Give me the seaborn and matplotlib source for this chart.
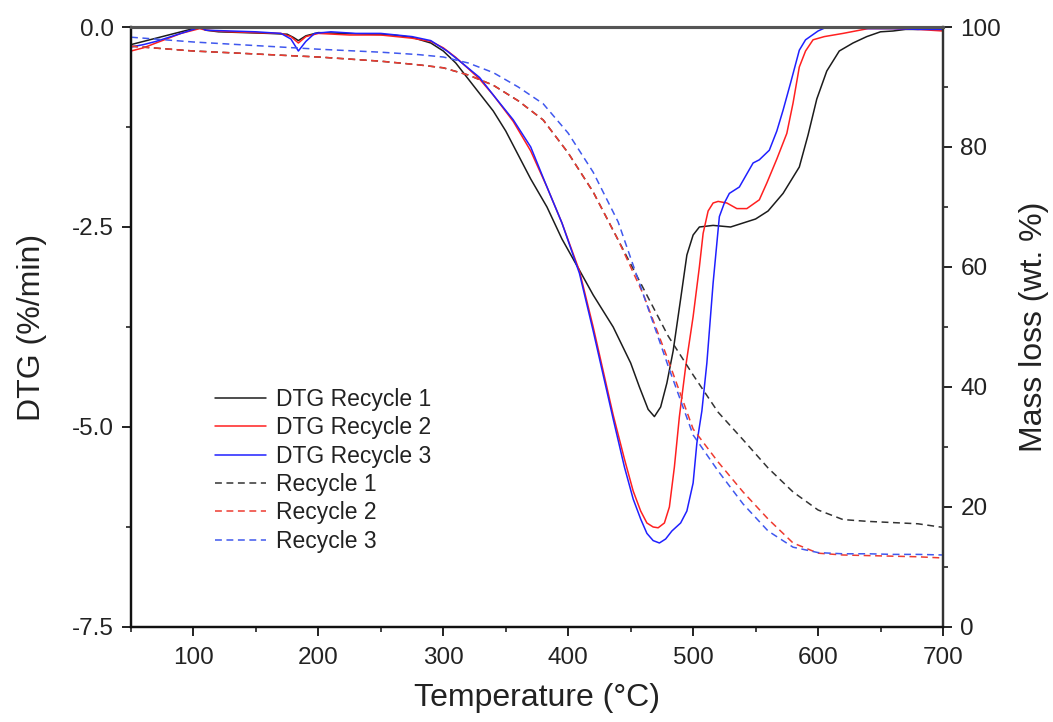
import matplotlib
matplotlib.use("Agg")
import matplotlib.pyplot as plt
from matplotlib.ticker import MultipleLocator
import seaborn as sns

# ---- DTG curves (left axis, %/min) ----
T_dtg1 = [50, 60, 70, 80, 90, 100, 105, 110, 120, 140, 160, 175, 180, 184, 190,
          200, 220, 240, 260, 275, 290, 300, 310, 320, 330, 340, 350, 360, 370, 383,
          395, 409, 420, 436, 450, 457, 464, 469, 474, 479, 484, 490, 495, 500, 505,
          516, 530, 540, 550, 560, 572, 585, 592, 599, 607, 617, 628, 639, 650, 660,
          670, 680, 690, 700]
dtg1 = [-0.22, -0.18, -0.14, -0.10, -0.06, -0.02, 0.0, -0.04, -0.06, -0.07,
        -0.08, -0.09, -0.13, -0.17, -0.11, -0.07, -0.08, -0.09, -0.10, -0.13,
        -0.20, -0.30, -0.45, -0.65, -0.85, -1.05, -1.30, -1.60, -1.90, -2.25,
        -2.65, -3.04, -3.35, -3.75, -4.20, -4.50, -4.78, -4.87, -4.75, -4.45,
        -4.05, -3.40, -2.85, -2.60, -2.50, -2.48, -2.50, -2.45, -2.40, -2.30,
        -2.08, -1.75, -1.35, -0.90, -0.55, -0.30, -0.20, -0.12, -0.06, -0.05,
        -0.03, -0.03, -0.02, -0.04]

T_dtg2 = [50, 60, 70, 80, 90, 100, 105, 110, 130, 150, 170, 178, 184, 190, 200,
          225, 250, 275, 290, 300, 310, 320, 329, 340, 356, 370, 383, 395, 409, 420,
          436, 445, 452, 458, 463, 468, 472, 477, 481, 485, 489, 494, 500, 505, 508,
          512, 516, 520, 527, 535, 543, 553, 559, 567, 575, 580, 585, 590, 596, 605,
          620, 640, 660, 680, 700]
dtg2 = [-0.30, -0.26, -0.20, -0.14, -0.08, -0.04, -0.02, -0.04, -0.06, -0.07,
        -0.08, -0.12, -0.20, -0.12, -0.08, -0.10, -0.10, -0.14, -0.18, -0.26,
        -0.38, -0.52, -0.65, -0.85, -1.18, -1.55, -2.00, -2.45, -3.05, -3.75,
        -4.85, -5.40, -5.80, -6.05, -6.20, -6.25, -6.26, -6.20, -6.00, -5.50,
        -4.87, -4.25, -3.62, -3.00, -2.58, -2.30, -2.20, -2.18, -2.20, -2.27,
        -2.27, -2.16, -1.95, -1.65, -1.33, -0.95, -0.50, -0.30, -0.16, -0.12,
        -0.08, -0.02, -0.02, -0.03, -0.05]

T_dtg3 = [50, 60, 70, 80, 90, 100, 105, 110, 130, 150, 170, 178, 184, 190, 197,
          210, 230, 250, 275, 290, 303, 315, 329, 340, 356, 370, 383, 395, 409, 420,
          436, 445, 452, 458, 463, 468, 473, 478, 483, 490, 495, 500, 503, 507, 511,
          516, 521, 525, 529, 537, 548, 553, 561, 567, 572, 578, 585, 590, 600, 607,
          620, 640, 660, 680, 700]
dtg3 = [-0.25, -0.22, -0.18, -0.13, -0.08, -0.03, 0.0, -0.04, -0.05, -0.06,
        -0.08, -0.15, -0.30, -0.18, -0.08, -0.06, -0.08, -0.08, -0.12, -0.17,
        -0.30, -0.45, -0.63, -0.85, -1.16, -1.50, -2.00, -2.45, -3.08, -3.80,
        -4.90, -5.50, -5.90, -6.15, -6.33, -6.42, -6.45, -6.40, -6.30, -6.20,
        -6.05, -5.70, -5.20, -4.80, -4.20, -3.20, -2.37, -2.20, -2.08, -2.00,
        -1.70, -1.66, -1.54, -1.30, -1.04, -0.70, -0.29, -0.16, -0.05, 0.0,
        0.0, -0.02, -0.02, -0.03, -0.03]

# ---- TG curves (right axis, wt. %) ----
T_tg = [50, 100, 150, 200, 250, 280, 300, 320, 340, 360, 380, 400, 420, 440,
        460, 480, 500, 520, 540, 560, 580, 600, 620, 640, 660, 680, 700]
mass1 = [96.8, 96.0, 95.5, 95.0, 94.3, 93.7, 93.2, 92.0, 90.3, 87.7, 84.5, 79.0,
         72.5, 64.5, 56.5, 48.5, 42.0, 35.8, 31.2, 26.5, 22.5, 19.5, 17.9, 17.6,
         17.4, 17.2, 16.6]
mass2 = [96.8, 96.0, 95.5, 95.0, 94.3, 93.7, 93.2, 92.0, 90.3, 87.7, 84.5, 79.0,
         72.5, 64.5, 55.5, 44.5, 33.0, 27.5, 22.5, 18.0, 14.0, 12.3, 12.0, 11.9,
         11.8, 11.7, 11.5]
mass3 = [98.3, 97.5, 96.9, 96.3, 95.8, 95.4, 95.0, 94.0, 92.4, 90.0, 87.2, 82.3,
         75.8, 67.5, 55.5, 43.5, 32.0, 26.0, 20.5, 16.0, 13.3, 12.4, 12.2, 12.2,
         12.1, 12.1, 12.0]

dtg_labels = ["DTG Recycle 1", "DTG Recycle 2", "DTG Recycle 3"]
tg_labels = ["Recycle 1", "Recycle 2", "Recycle 3"]

sns.set_theme(style="ticks")
plt.rcParams["font.family"] = ["Liberation Sans", "DejaVu Sans"]
plt.rcParams["text.color"] = "#222222"
plt.rcParams["axes.labelcolor"] = "#222222"
plt.rcParams["xtick.color"] = "#222222"
plt.rcParams["ytick.color"] = "#222222"

fig = plt.figure(figsize=(10.53, 7.22), dpi=100)
ax = fig.add_axes([0.1244, 0.1316, 0.7711, 0.8310])
ax2 = ax.twinx()

solid_colors = ["#1c1c1c", "#ff2020", "#2020ff"]
dash_colors = ["#333333", "#ee3b30", "#4058ee"]

for T, y, c, lab in zip([T_dtg1, T_dtg2, T_dtg3], [dtg1, dtg2, dtg3],
                        solid_colors, dtg_labels):
    sns.lineplot(x=T, y=y, ax=ax, color=c, linewidth=1.1, label=lab,
                 legend=False)

for m, c, lab in zip([mass1, mass2, mass3], dash_colors, tg_labels):
    sns.lineplot(x=T_tg, y=m, ax=ax2, color=c, linewidth=1.1,
                 linestyle=(0, (4.5, 3)), label=lab, legend=False)

ax.set_xlim(50, 700)
ax.set_ylim(-7.5, 0.0)
ax2.set_ylim(0, 100)

ax.xaxis.set_major_locator(MultipleLocator(100))
ax.xaxis.set_minor_locator(MultipleLocator(50))
ax.yaxis.set_major_locator(MultipleLocator(2.5))
ax.yaxis.set_minor_locator(MultipleLocator(1.25))
ax2.yaxis.set_major_locator(MultipleLocator(20))
ax2.yaxis.set_minor_locator(MultipleLocator(10))
ax.set_xticks([100, 200, 300, 400, 500, 600, 700])
ax.yaxis.set_major_formatter(plt.FuncFormatter(lambda v, p: f"{v:.1f}"))

ax.tick_params(axis="x", which="major", direction="out", length=6.5,
               width=1.4, labelsize=17.5, pad=8, top=False)
ax.tick_params(axis="y", which="major", direction="out", length=6.5,
               width=1.4, labelsize=17.5, pad=6, right=False)
ax.tick_params(axis="both", which="minor", direction="out", length=3.5,
               width=1.2, top=False, right=False)
ax2.tick_params(axis="y", which="major", direction="out", length=6.5,
                width=1.4, labelsize=17.5, pad=6)
ax2.tick_params(axis="y", which="minor", direction="out", length=3.5, width=1.2)

for a in (ax, ax2):
    for side in ("left", "bottom"):
        a.spines[side].set_linewidth(1.6)
        a.spines[side].set_color("#111111")
    a.spines["right"].set_linewidth(1.6)
    a.spines["right"].set_color("#333333")
    a.spines["top"].set_linewidth(2.2)
    a.spines["top"].set_color("#555555")
    a.spines["top"].set_visible(True)
    a.spines["right"].set_visible(True)

ax.set_xlabel("Temperature (°C)", fontsize=23, labelpad=10)
ax.set_ylabel("DTG (%/min)", fontsize=23, labelpad=18)
ax2.set_ylabel("Mass loss (wt. %)", fontsize=23, labelpad=13)

h1, l1 = ax.get_legend_handles_labels()
h2, l2 = ax2.get_legend_handles_labels()
ax2.legend(h1 + h2, l1 + l2, loc="upper left", bbox_to_anchor=(0.104, 0.398),
           frameon=False, fontsize=16.5, handlelength=2.2, handletextpad=0.43,
           labelspacing=0.23, borderpad=0, borderaxespad=0)

fig.savefig("out.png", dpi=100)
